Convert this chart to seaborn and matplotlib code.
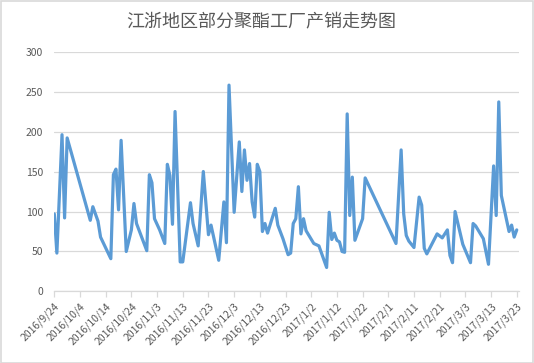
import matplotlib
matplotlib.use("Agg")
import matplotlib.pyplot as plt
import seaborn as sns
import pandas as pd
from matplotlib.patches import Rectangle

title = "江浙地区部分聚酯工厂产销走势图"

dates = [
    "2016/9/24", "2016/9/25", "2016/9/27", "2016/9/28", "2016/9/29",
    "2016/10/8", "2016/10/9", "2016/10/11", "2016/10/12", "2016/10/16",
    "2016/10/17", "2016/10/18", "2016/10/19", "2016/10/20", "2016/10/22",
    "2016/10/24", "2016/10/25", "2016/10/26", "2016/10/30", "2016/10/31",
    "2016/11/1", "2016/11/2", "2016/11/4", "2016/11/6", "2016/11/7",
    "2016/11/8", "2016/11/9", "2016/11/10", "2016/11/12", "2016/11/13",
    "2016/11/16", "2016/11/17", "2016/11/19", "2016/11/21", "2016/11/23",
    "2016/11/24", "2016/11/27", "2016/11/29", "2016/11/30", "2016/12/1",
    "2016/12/3", "2016/12/5", "2016/12/6", "2016/12/7", "2016/12/8",
    "2016/12/9", "2016/12/10", "2016/12/11", "2016/12/12", "2016/12/13",
    "2016/12/14", "2016/12/15", "2016/12/16", "2016/12/19", "2016/12/20",
    "2016/12/22", "2016/12/24", "2016/12/25", "2016/12/26", "2016/12/27",
    "2016/12/28", "2016/12/29", "2016/12/30", "2016/12/31", "2017/1/3",
    "2017/1/5", "2017/1/8", "2017/1/9", "2017/1/10", "2017/1/11",
    "2017/1/12", "2017/1/13", "2017/1/14", "2017/1/15", "2017/1/16",
    "2017/1/17", "2017/1/18", "2017/1/19", "2017/1/22", "2017/1/23",
    "2017/2/4", "2017/2/6", "2017/2/7", "2017/2/8", "2017/2/9",
    "2017/2/11", "2017/2/13", "2017/2/14", "2017/2/15", "2017/2/16",
    "2017/2/20", "2017/2/22", "2017/2/24", "2017/2/25", "2017/2/26",
    "2017/2/27", "2017/3/2", "2017/3/5", "2017/3/6", "2017/3/7",
    "2017/3/10", "2017/3/12", "2017/3/14", "2017/3/15", "2017/3/16",
    "2017/3/17", "2017/3/20", "2017/3/21", "2017/3/22", "2017/3/23",
]

values = [
    97, 48, 196, 92, 192,
    89, 106, 88, 68, 41,
    146, 153, 102, 189, 50,
    77, 110, 85, 51, 146,
    136, 91, 77, 60, 159,
    145, 84, 225, 37, 37,
    111, 85, 57, 150, 71,
    83, 39, 112, 61, 258,
    99, 187, 125, 177, 139,
    160, 112, 93, 159, 150,
    75, 85, 73, 104, 83,
    66, 46, 48, 85, 91,
    131, 72, 91, 76, 60,
    57, 30, 99, 65, 73,
    64, 62, 50, 49, 222,
    95, 143, 64, 91, 142,
    60, 177, 97, 70, 63,
    55, 118, 108, 54, 47,
    72, 67, 77, 45, 36,
    100, 59, 36, 85, 82,
    66, 34, 157, 95, 237,
    120, 75, 83, 68, 77,
]

y_ticks = [0, 50, 100, 150, 200, 250, 300]
x_start = "2016/9/24"
x_end = "2017/3/24"

sns.set_theme(style="white")
plt.rcParams["font.family"] = ["Noto Sans CJK SC", "DejaVu Sans"]

df = pd.DataFrame({"date": pd.to_datetime(dates, format="%Y/%m/%d"), "value": values})

fig = plt.figure(figsize=(5.34, 3.63), dpi=100)
ax = fig.add_axes([0.1017, 0.197, 0.8708, 0.661])

sns.lineplot(data=df, x="date", y="value", ax=ax, color="#5B9BD5",
             linewidth=2.3, solid_joinstyle="round", solid_capstyle="round")

ax.set_ylim(0, 300)
ax.set_yticks(y_ticks)
ax.set_yticklabels([str(v) for v in y_ticks])
ax.set_xlim(pd.to_datetime(x_start, format="%Y/%m/%d"), pd.to_datetime(x_end, format="%Y/%m/%d"))
ticks = pd.date_range(pd.to_datetime(x_start, format="%Y/%m/%d"), periods=19, freq="10D")
ax.set_xticks(ticks)
ax.set_xticklabels([f"{d.year}/{d.month}/{d.day}" for d in ticks], rotation=45,
                   ha="right", rotation_mode="anchor")

ax.grid(axis="y", color="#D9D9D9", linewidth=0.9)
ax.grid(axis="x", visible=False)
ax.set_axisbelow(True)
for s in ["top", "right", "left"]:
    ax.spines[s].set_visible(False)
ax.spines["bottom"].set_color("#D9D9D9")
ax.spines["bottom"].set_linewidth(0.9)
ax.tick_params(axis="x", direction="out", length=4, width=0.9, color="#D9D9D9",
               labelsize=7.5, labelcolor="#595959", pad=3, bottom=True)
ax.tick_params(axis="y", length=0, labelsize=7.5, labelcolor="#595959", pad=8)
ax.set_xlabel("")
ax.set_ylabel("")

fig.text(0.49, 0.94, title, ha="center", va="center", fontsize=13, color="#595959",
         fontweight="light")
fig.patches.append(Rectangle((0.001, 0.001), 0.997, 0.997, transform=fig.transFigure,
                             fill=False, edgecolor="#D9D9D9", linewidth=1.2))

fig.savefig("out.png", dpi=100)
